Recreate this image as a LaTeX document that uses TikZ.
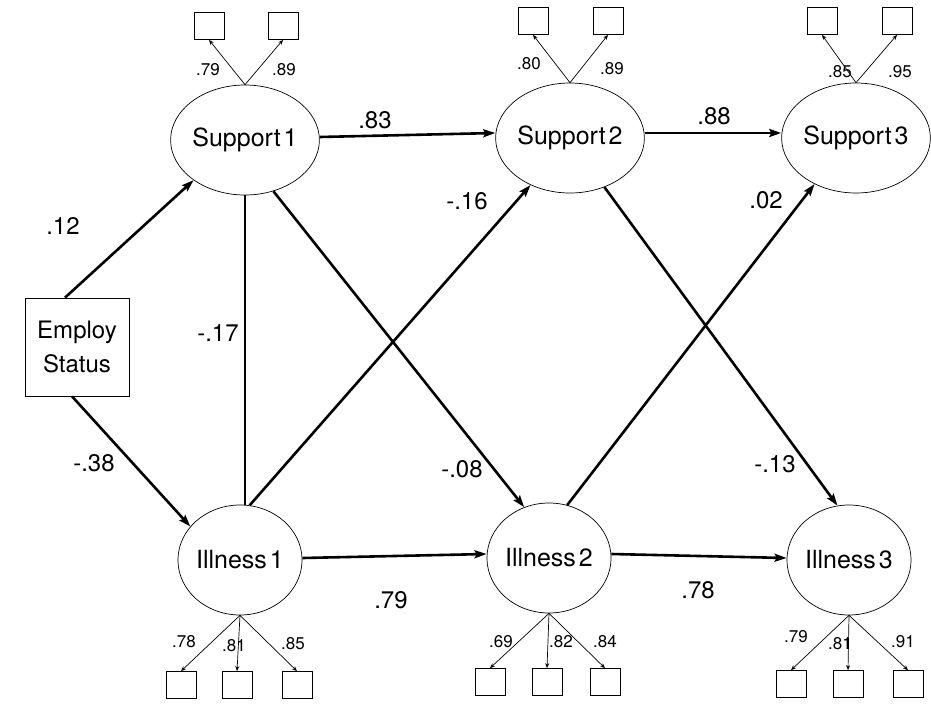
\documentclass[tikz,border=0pt]{standalone}
\usepackage{fontspec}
\setmainfont{TeX Gyre Heros}
\usetikzlibrary{shapes.geometric,arrows.meta}
\begin{document}
\begin{tikzpicture}[x=1pt,y=-1pt,
  lat/.style={draw, ellipse, line width=0.7pt, minimum width=124pt, minimum height=110pt, inner sep=0pt, font=\fontsize{25}{28}\selectfont},
  ind/.style={draw, rectangle, line width=0.7pt, minimum width=30pt, minimum height=27pt, inner sep=0pt},
  obs/.style={draw, rectangle, line width=0.7pt, minimum width=104pt, minimum height=98pt, inner sep=0pt, align=center, font=\fontsize{24}{34}\selectfont},
  struct/.style={line width=2.6pt, -{Stealth[length=12pt,width=8pt,inset=2pt]}},
  corr/.style={line width=2.6pt},
  loadarr/.style={line width=0.7pt, -{Stealth[length=5pt,width=4pt]}},
  lab/.style={font=\fontsize{24}{27}\selectfont, inner sep=0pt},
  slab/.style={font=\fontsize{17}{19}\selectfont, inner sep=0pt}
]
\useasboundingbox (0,0) rectangle (931,704);

% latent variables
\node[lat] (s1) at (245,140) {Support\hspace{0.12em}1};
\node[lat] (s2) at (570,138) {Support\hspace{0.12em}2};
\node[lat] (s3) at (856,138) {Support\hspace{0.12em}3};
\node[lat] (i1) at (240,560) {Illness\hspace{0.12em}1};
\node[lat] (i2) at (549,558) {Illness\hspace{0.12em}2};
\node[lat] (i3) at (849,560) {Illness\hspace{0.12em}3};

% observed exogenous
\node[obs] (emp) at (77,347) {Employ\\Status};

% indicator boxes
\node[ind] (b11) at (209,26) {};
\node[ind] (b12) at (283,26) {};
\node[ind] (b21) at (533,21) {};
\node[ind] (b22) at (608,21) {};
\node[ind] (b31) at (822,21) {};
\node[ind] (b32) at (897,21) {};
\node[ind] (c11) at (181,685) {};
\node[ind] (c12) at (237,685) {};
\node[ind] (c13) at (297,685) {};
\node[ind] (c21) at (490,682) {};
\node[ind] (c22) at (547,682) {};
\node[ind] (c23) at (605,682) {};
\node[ind] (c31) at (791,684) {};
\node[ind] (c32) at (848,684) {};
\node[ind] (c33) at (908,684) {};

% loadings
\draw[loadarr] (s1.north) -- (b11.south);
\draw[loadarr] (s1.north) -- (b12.south);
\draw[loadarr] (s2.north) -- (b21.south);
\draw[loadarr] (s2.north) -- (b22.south);
\draw[loadarr] (s3.north) -- (b31.south);
\draw[loadarr] (s3.north) -- (b32.south);
\draw[loadarr] (i1.south) -- (c11.north);
\draw[loadarr] (i1.south) -- (c12.north);
\draw[loadarr] (i1.south) -- (c13.north);
\draw[loadarr] (i2.south) -- (c21.north);
\draw[loadarr] (i2.south) -- (c22.north);
\draw[loadarr] (i2.south) -- (c23.north);
\draw[loadarr] (i3.south) -- (c31.north);
\draw[loadarr] (i3.south) -- (c32.north);
\draw[loadarr] (i3.south) -- (c33.north);

% loading labels
\node[slab] (l11) at (208,70) {.79};
\node[slab] (l12) at (284,70) {.89};
\node[slab] (l21) at (529,64) {.80};
\node[slab] (l22) at (612,69) {.89};
\node[slab] (l31) at (840,72) {.85};
\node[slab] (l32) at (900,72) {.95};
\node[slab] (m11) at (184,642) {.78};
\node[slab] (m12) at (234,646) {.81};
\node[slab] (m13) at (293,644) {.85};
\node[slab] (m21) at (501,642) {.69};
\node[slab] (m22) at (561,642) {.82};
\node[slab] (m23) at (605,642) {.84};
\node[slab] (m31) at (796,637) {.79};
\node[slab] (m32) at (840,644) {.81};
\node[slab] (m33) at (903,642) {.91};

% structural paths
\draw[struct] ([xshift=-12pt]emp.north) -- (s1.218);
\draw[struct] ([xshift=-5pt]emp.south) -- (i1.146);
\draw[corr] (s1.south) -- (s1.south |- i1.north);
\draw[struct] ([yshift=3pt]s1.east) -- ([yshift=5pt]s2.west);
\draw[struct] ([yshift=5pt]s2.east) -- ([yshift=5pt]s3.west);
\draw[struct] ([yshift=2pt]i1.east) -- ([yshift=4pt]i2.west);
\draw[struct] ([yshift=4pt]i2.east) -- ([yshift=2pt]i3.west);
\draw[struct] (s1.299) -- (i2.116);
\draw[struct] (i1.80) -- (s2.230);
\draw[struct] (s2.305) -- (i3.102);
\draw[struct] (i2.71) -- (s3.228);

% path labels
\node[lab] (p1) at (63,226) {.12};
\node[lab] (p2) at (94,463) {-.38};
\node[lab] (p3) at (218,333) {-.17};
\node[lab] (p4) at (375,120) {.83};
\node[lab] (p5) at (714,116) {.88};
\node[lab] (p6) at (467,201) {-.16};
\node[lab] (p7) at (766,200) {.02};
\node[lab] (p8) at (462,469) {-.08};
\node[lab] (p9) at (775,464) {-.13};
\node[lab] (p10) at (391,600) {.79};
\node[lab] (p11) at (698,590) {.78};
\end{tikzpicture}
\end{document}
